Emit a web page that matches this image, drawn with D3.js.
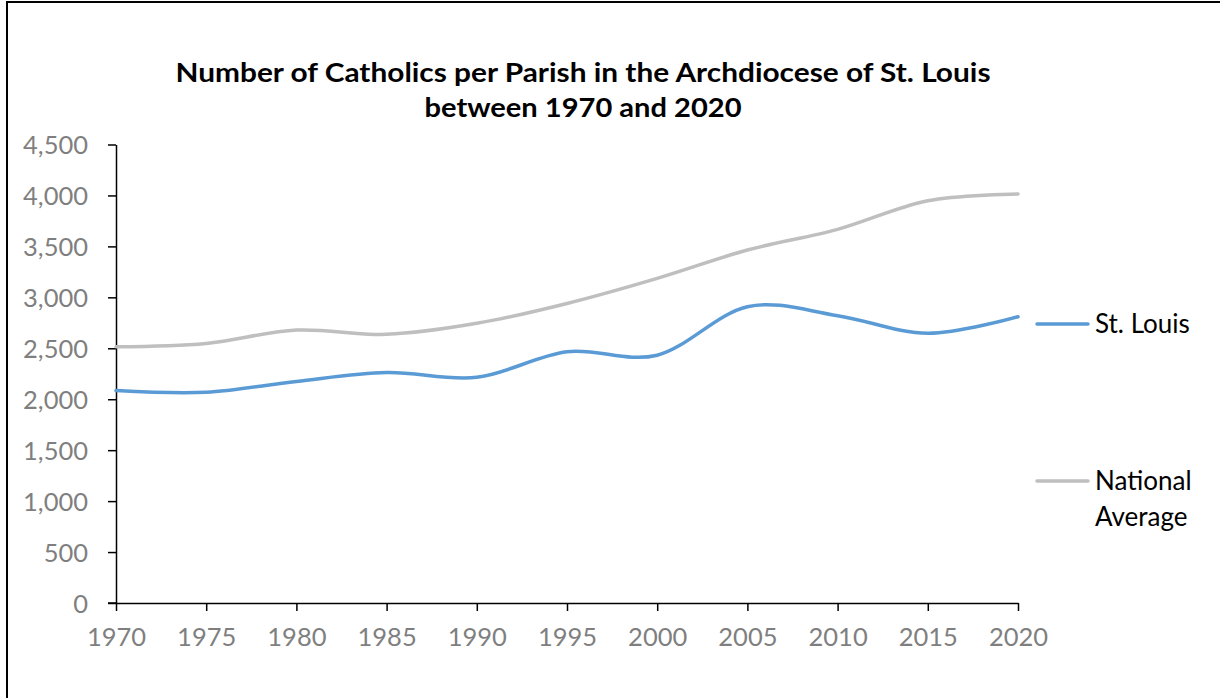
<!DOCTYPE html>
<html>
<head>
<meta charset="utf-8">
<script src="https://d3js.org/d3.v7.min.js"></script>
<style>
  body { margin: 0; background: #fff; }
  svg { display: block; }
</style>
</head>
<body>
<div id="chart"></div>
<script>
// data
var years = [1970, 1975, 1980, 1985, 1990, 1995, 2000, 2005, 2010, 2015, 2020];
var stLouis = [2085, 2068, 2175, 2262, 2215, 2466, 2432, 2908, 2820, 2647, 2810];
var national = [2515, 2548, 2679, 2637, 2745, 2940, 3186, 3464, 3667, 3948, 4014];
var yTicks = [0, 500, 1000, 1500, 2000, 2500, 3000, 3500, 4000, 4500];
var titleLines = ["Number of Catholics per Parish in the Archdiocese of St. Louis", "between 1970 and 2020"];

var W = 1220, H = 698;
var margin = {left: 116, right: 202, top: 144.5, bottom: 95};
var width = W - margin.left - margin.right,
    height = H - margin.top - margin.bottom;

var svg = d3.select("#chart").append("svg")
  .attr("width", W).attr("height", H);

// outer chart border
svg.append("rect")
  .attr("x", 7).attr("y", 2).attr("width", W + 20).attr("height", H + 20)
  .attr("fill", "none").attr("stroke", "#000").attr("stroke-width", 2);

// title (widths taken from the original so the lines span the same space)
var titleWidths = [815, 317];
svg.append("g").selectAll("text")
  .data(titleLines).enter().append("text")
    .attr("x", 583)
    .attr("y", function(d, i) { return 82 + i * 35; })
    .attr("text-anchor", "middle")
    .attr("textLength", function(d, i) { return titleWidths[i]; })
    .attr("lengthAdjust", "spacingAndGlyphs")
    .style("font-family", "Lato, 'Open Sans', sans-serif")
    .style("font-weight", "bold")
    .style("font-size", "26.5px")
    .attr("fill", "#000")
    .text(function(d) { return d; });

var g = svg.append("g")
  .attr("transform", "translate(" + margin.left + "," + margin.top + ")");

var x = d3.scaleLinear().domain([1970, 2020]).range([0, width]);
var y = d3.scaleLinear().domain([0, 4500]).range([height, 0]);

// x axis
var xAxis = g.append("g")
  .attr("transform", "translate(0," + height + ")")
  .call(d3.axisBottom(x).tickValues(years).tickFormat(d3.format("d")).tickSizeInner(8).tickSizeOuter(0).tickPadding(17));
// y axis
var yAxis = g.append("g")
  .call(d3.axisLeft(y).tickValues(yTicks).tickFormat(d3.format(",")).tickSizeInner(8).tickSizeOuter(0).tickPadding(20));

[xAxis, yAxis].forEach(function(ax) {
  ax.select(".domain").attr("stroke", "#000").attr("stroke-width", 1.5);
  ax.selectAll(".tick line").attr("stroke", "#000").attr("stroke-width", 1.5);
  ax.selectAll("text")
    .style("font-family", "Lato, 'Open Sans', sans-serif")
    .style("font-size", "25.5px")
    .attr("fill", "#7f7f7f");
});
yAxis.selectAll("text").attr("dy", "0.36em");
// extend the zero line a little left of the y axis like the original
g.append("line")
  .attr("x1", -8).attr("x2", 0).attr("y1", height).attr("y2", height)
  .attr("stroke", "#000").attr("stroke-width", 1.5);

var series = [
  {name: ["St. Louis"], values: stLouis, color: "#5b9bd5", ly: 324},
  {name: ["National", "Average"], values: national, color: "#bfbfbf", ly: 481}
];

var line = d3.line()
  .x(function(d, i) { return x(years[i]); })
  .y(function(d) { return y(d); })
  .curve(d3.curveCardinal.tension(0));

g.selectAll("path.series")
  .data(series.slice().reverse()).enter().append("path")
    .attr("class", "series")
    .attr("d", function(s) { return line(s.values); })
    .attr("fill", "none")
    .attr("stroke", function(s) { return s.color; })
    .attr("stroke-width", 3.5)
    .attr("stroke-linecap", "round");

// legend
var leg = svg.append("g");
series.forEach(function(s) {
  leg.append("line")
    .attr("x1", 1037).attr("x2", 1088)
    .attr("y1", s.ly).attr("y2", s.ly)
    .attr("stroke", s.color).attr("stroke-width", 3.5)
    .attr("stroke-linecap", "round");
  s.name.forEach(function(t, i) {
    leg.append("text")
      .attr("x", 1095).attr("y", s.ly + 9 + i * 36)
      .style("font-family", "Lato, 'Open Sans', sans-serif")
      .style("font-size", "26px")
      .attr("fill", "#000")
      .text(t);
  });
});
</script>
</body>
</html>
